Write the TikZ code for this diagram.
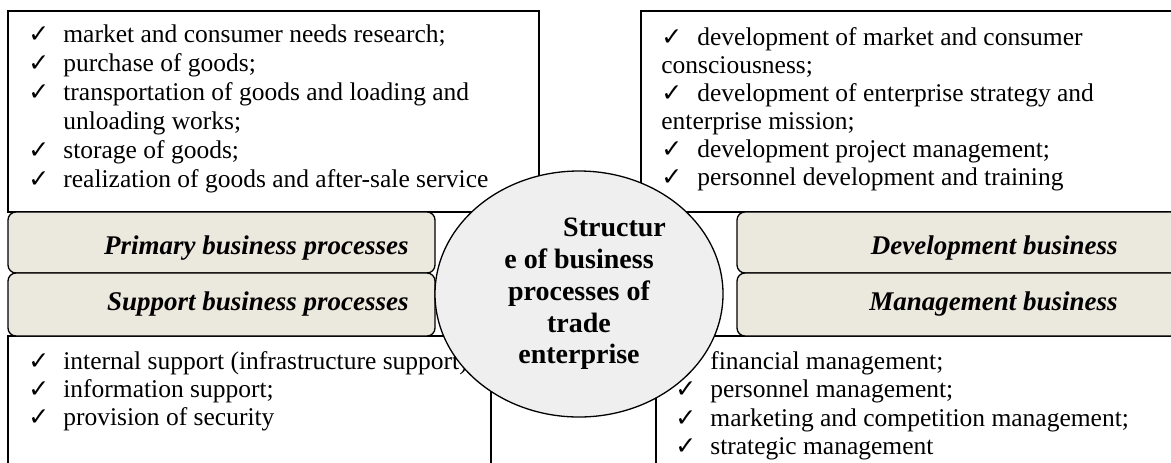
\documentclass[tikz,border=0pt]{standalone}
\usepackage{fontspec}
\setmainfont{Liberation Serif}
\newfontfamily\tickfont{DejaVu Sans}
\usetikzlibrary{positioning}
\usetikzlibrary{shapes.geometric}
\definecolor{bandfill}{HTML}{EBE8DE}
\definecolor{hubfill}{HTML}{EFEFEF}
\newcommand{\tick}[1][17.5pt]{\makebox[#1][l]{\tickfont\fontsize{12.5}{12.5}\selectfont ✓}}
\tikzset{
    listbox/.style={draw, line width=0.65pt},
    band/.style={draw, line width=0.65pt, fill=bandfill, rounded corners=4pt},
    bandtext/.style={font=\fontsize{13.5}{16}\selectfont\bfseries\itshape, inner sep=0pt, anchor=base east},
    item/.style={font=\fontsize{12.75}{14.5}\selectfont, inner sep=0pt, anchor=base west},
    hub/.style={ellipse, draw, line width=0.65pt, fill=hubfill, inner sep=0pt,
        minimum width=144pt, minimum height=123pt, align=center,
        font=\fontsize{14}{15.9}\selectfont\bfseries}
}

\begin{document}
\begin{tikzpicture}[x=0.5pt, y=-0.5pt]
    \useasboundingbox (0,0) rectangle (1171,462);
    \clip (0,0) rectangle (1171,462);

    % frames of the four lists
    \draw[listbox] (8,11) rectangle (539,212);
    \draw[listbox] (641,11) rectangle (1190,212);
    \draw[listbox] (8,336) rectangle (491,480);
    \draw[listbox] (656,336) rectangle (1190,480);

    % process groups
    \draw[band] (8,212) rectangle (435,273);
    \draw[band] (8,273) rectangle (435,336);
    \draw[band] (737,212) rectangle (1190,273);
    \draw[band] (737,273) rectangle (1190,336);
    \node[bandtext] (primary) at (409,254) {Primary business processes};
    \node[bandtext] (support) at (409,310) {Support business processes};
    \node[bandtext] (develop) at (1118,254) {Development business};
    \node[bandtext] (manage) at (1118,310) {Management business};

    % primary
    \foreach \entry [count=\i] in {
        {\tick market and consumer needs research;},
        {\tick purchase of goods;},
        {\tick transportation of goods and loading and},
        {\hspace*{17.5pt}unloading works;},
        {\tick storage of goods;},
        {\tick realization of goods and after-sale service}}
        \node[item] (prim\i) at (28,{42+29*(\i-1)}) {\entry};

    % development
    \foreach \entry [count=\i] in {
        {\tick[18pt]development of market and consumer},
        {consciousness;},
        {\tick[18pt]development of enterprise strategy and},
        {enterprise mission;},
        {\tick[18pt]development project management;},
        {\tick[18pt]personnel development and training}}
        \node[item] (dev\i) at (661,{45+28*(\i-1)}) {\entry};

    % support
    \foreach \entry [count=\i] in {
        {\tick internal support (infrastructure support);},
        {\tick information support;},
        {\tick provision of security}}
        \node[item] (supp\i) at (28,{369+28*(\i-1)}) {\entry};

    % management
    \foreach \entry [count=\i] in {
        {\tick financial management;},
        {\tick personnel management;},
        {\tick marketing and competition management;},
        {\tick strategic management}}
        \node[item] (mgmt\i) at (675,{369+28.5*(\i-1)}) {\entry};

    \node[hub] (hub) at (579,294)
        {\hspace*{35.5pt}Structur\\e of business\\processes of\\trade\\enterprise};
\end{tikzpicture}
\end{document}
